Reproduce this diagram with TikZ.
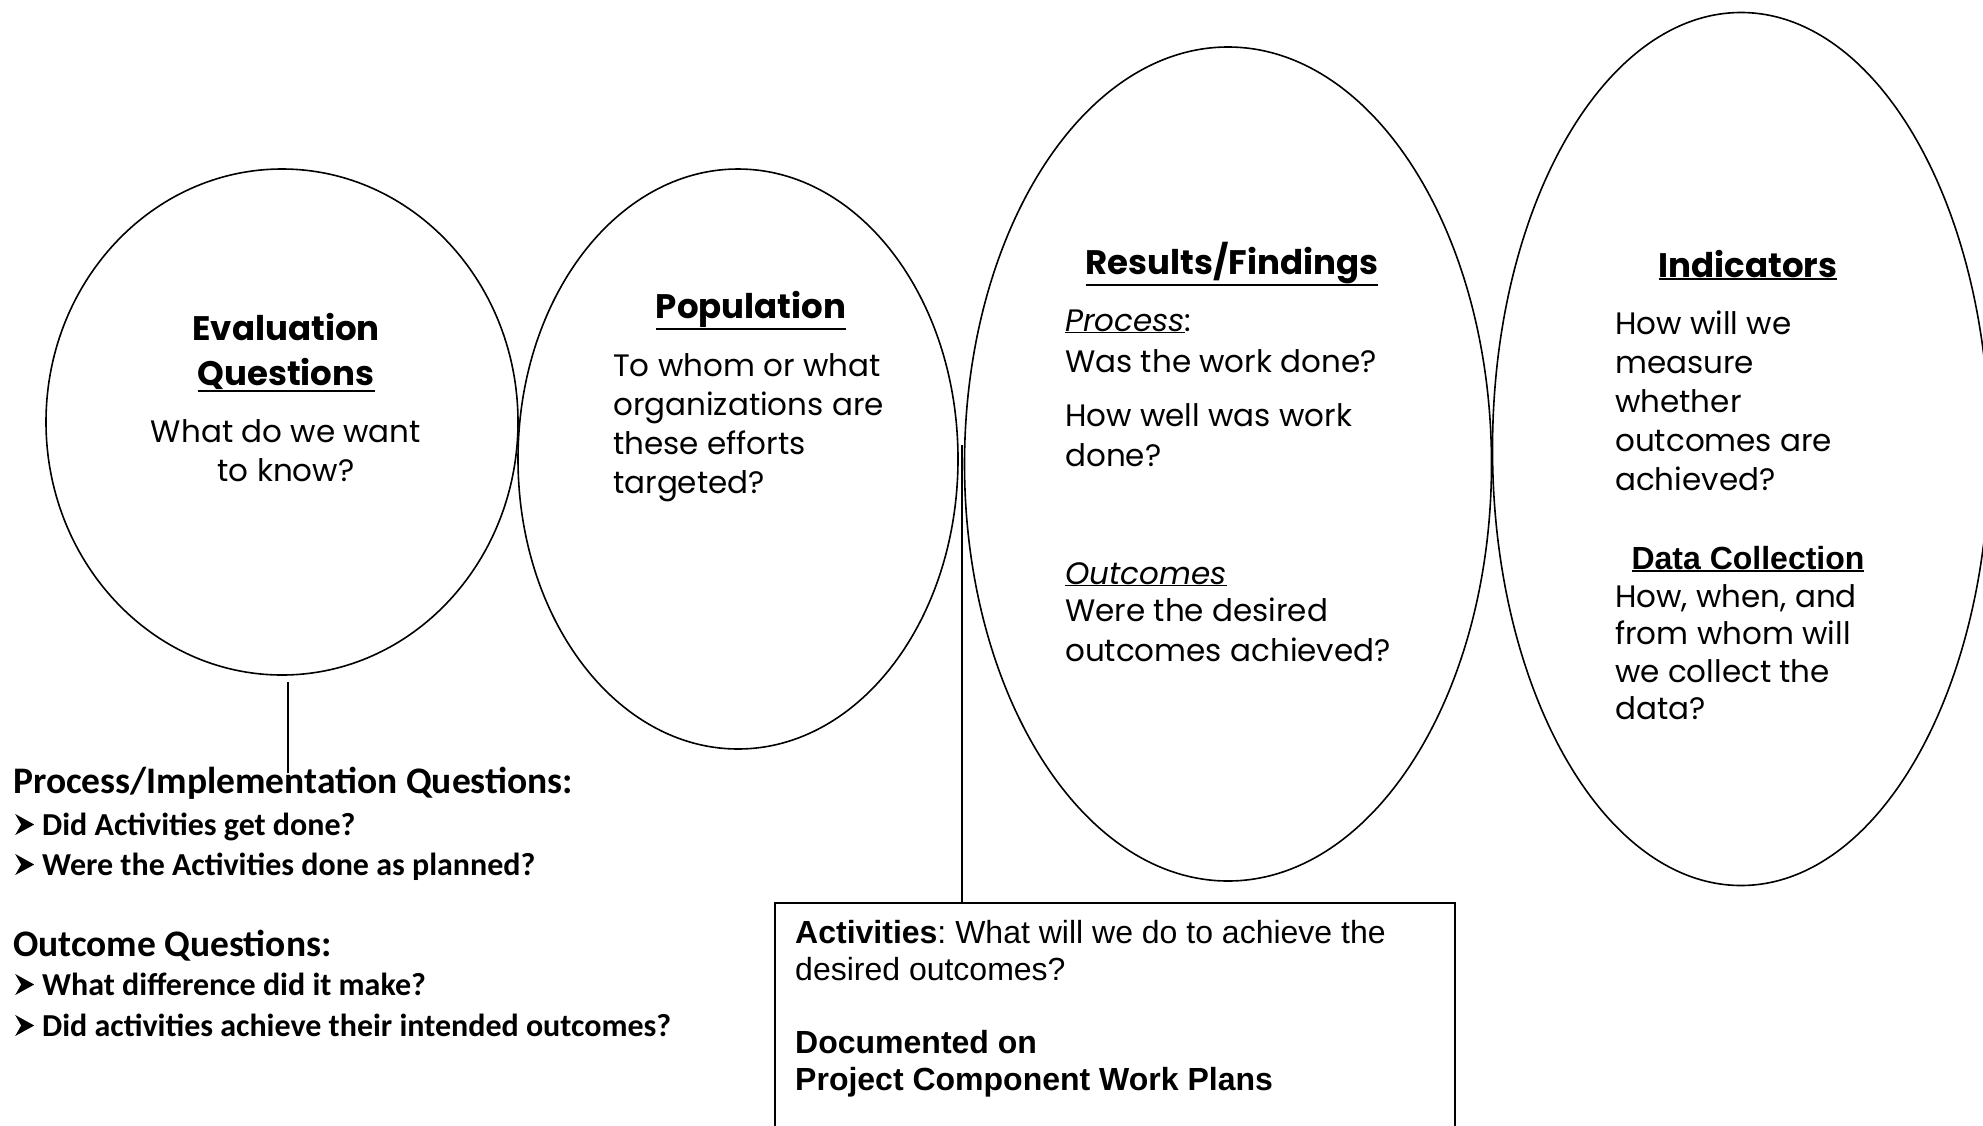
\documentclass[tikz,border=0pt]{standalone}
\usepackage{fontspec}
\setmainfont{Poppins}
\newfontfamily\calibri{Carlito}
\newfontfamily\arial{Liberation Sans}
\usetikzlibrary{shapes.geometric}
\newcommand\bulletarrow{\makebox[29pt][l]{\hspace{2pt}\tikz\fill (0pt,0pt) -- (6pt,10.5pt) -- (0pt,21pt) -- (19pt,10.5pt) -- cycle;}}
\newcommand\ulbar[1]{\leavevmode\setbox0\hbox{#1}\rlap{\rule[\dimexpr-\dp0-3pt\relax]{\wd0}{2.4pt}}\box0}
\frenchspacing

\begin{document}
\begin{tikzpicture}[x=1pt,y=-1pt,
		oval/.style={draw, ellipse, line width=1.6pt, inner sep=0pt},
		conn/.style={line width=1.6pt},
		head/.style={font=\fontsize{34}{39}\selectfont\bfseries, anchor=base, inner sep=0pt},
		bodyc/.style={font=\fontsize{31}{39}\selectfont, anchor=base, inner sep=0pt},
		body/.style={font=\fontsize{31}{39}\selectfont, anchor=base west, inner sep=0pt},
		qhead/.style={font=\calibri\fontsize{37.5}{44}\selectfont\bfseries, anchor=base west, inner sep=0pt},
		qitem/.style={font=\calibri\fontsize{32}{40}\selectfont\bfseries, anchor=base west, inner sep=0pt},
		actbox/.style={draw, line width=1.6pt, minimum width=680pt, minimum height=300pt, inner sep=0pt}]
			\useasboundingbox (0,0) rectangle (1983,1125);
			\clip (0,0) rectangle (1983,1125);

			% Ovals
			\node[oval, minimum width=472pt, minimum height=506pt] (evalq) at (282,422) {};
			\node[oval, minimum width=440pt, minimum height=580pt] (popu) at (738,459) {};
			\node[oval, minimum width=527pt, minimum height=834pt] (results) at (1228,464) {};
			\node[oval, minimum width=497pt, minimum height=873pt] (indic) at (1741,449) {};

			% Evaluation questions
			\node[head] (evalt) at (286,340) {Evaluation};
			\node[head] (evalu) at (286,385) {\ulbar{Questions}};
			\node[bodyc] (evalw) at (286,442) {What do we want};
			\node[bodyc] (evalk) at (286,481) {to know?};

			% Population
			\node[head] (popt) at (751,318) {\ulbar{Population}};
			\foreach \txt [count=\i from 0] in {To whom or what, organizations are, these efforts, targeted?}{
					\node[body] (pop\i) at (613,376+39*\i) {\txt};
				}

			% Results/Findings
			\node[head] (rest) at (1232,274) {\ulbar{Results/Findings}};
			\foreach \txt/\yy [count=\i] in {{\underline{\textit{Process}}:}/331, Was the work done?/372,
					How well was work/426, done?/466, {\underline{\textit{Outcomes}}}/584,
					Were the desired/621, outcomes achieved?/661}{
					\node[body] (res\i) at (1065,\yy) {\txt};
				}

			% Indicators
			\node[head] (indt) at (1748,277) {\ulbar{Indicators}};
			\foreach \txt [count=\i from 0] in {How will we, measure, whether, outcomes are, achieved?}{
					\node[body] (ind\i) at (1615,334+39*\i) {\txt};
				}

			% Data collection
			\node[head, font=\arial\fontsize{32}{39}\selectfont\bfseries] (datat) at (1748,569) {\ulbar{Data Collection}};
			\foreach \txt [count=\i from 0] in {{How, when, and}, from whom will, we collect the, data?}{
					\node[body] (data\i) at (1615,607+37.5*\i) {\txt};
				}

			% Question lists
			\node[qhead] (procq) at (13,793) {Process/Implementation Questions:};
			\node[qitem] (proc1) at (13,835) {\bulletarrow Did Activities get done?};
			\node[qitem] (proc2) at (13,875) {\bulletarrow Were the Activities done as planned?};
			\node[qhead] (outq) at (13,956) {Outcome Questions:};
			\node[qitem] (out1) at (13,995) {\bulletarrow What difference did it make?};
			\node[qitem] (out2) at (13,1036) {\bulletarrow Did activities achieve their intended outcomes?};

			% Activities box
			\node[actbox, anchor=north west] (act) at (774,902) {};
			\node[anchor=north west, inner sep=0pt, align=left,
				font=\arial\fontsize{32}{37}\selectfont] (actt) at (795,920)
				{\textbf{Activities}: What will we do to achieve the\\desired outcomes?\\[36pt]
					\textbf{Documented on}\\\textbf{Project Component Work Plans}};

			% Connectors
			\coordinate (evalfoot) at ([shift={(6pt,-6pt)}]evalq.south);
			\draw[conn] (evalfoot) -- ([yshift=-7pt]evalfoot |- procq.north);
			\coordinate (gap) at (962,445);
			\draw[conn] (gap) -- (gap |- act.north);
		\end{tikzpicture}
\end{document}
